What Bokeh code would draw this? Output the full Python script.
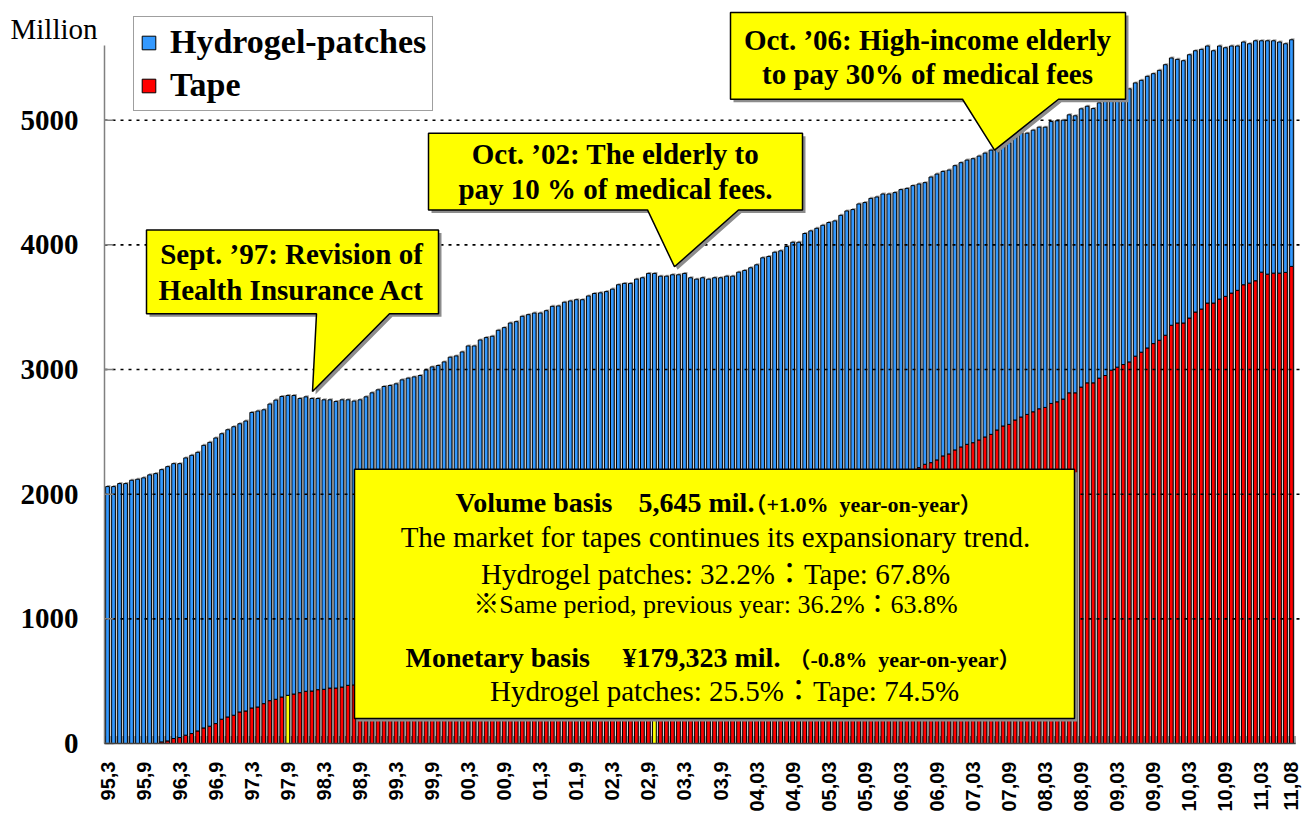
import math
from bokeh.plotting import figure
from bokeh.models import (ColumnDataSource, Range1d, FixedTicker, Label, Legend, LegendItem)
from bokeh.core.properties import value
from bokeh.embed import file_html
from bokeh.resources import INLINE

# ---------------- data ----------------
# monthly periods Mar 1995 .. Aug 2011
periods = []
yy, mm = 1995, 3
while (yy, mm) <= (2011, 8):
    periods.append((yy, mm))
    mm += 1
    if mm > 12:
        mm, yy = 1, yy + 1

# total market volume (million sheets) = hydrogel-patches + tape
total_volume = [
    2061, 2061, 2085, 2085, 2112, 2120, 2131, 2155, 2165, 2197, 2221, 2245,
    2245, 2291, 2312, 2336, 2392, 2416, 2451, 2485, 2517, 2541, 2565, 2587,
    2656, 2667, 2677, 2723, 2755, 2784, 2792, 2792, 2768, 2781, 2768, 2768,
    2757, 2757, 2744, 2757, 2757, 2747, 2757, 2781, 2813, 2837, 2864, 2872,
    2885, 2917, 2931, 2941, 2952, 2997, 3021, 3032, 3061, 3099, 3109, 3141,
    3189, 3189, 3237, 3256, 3267, 3315, 3336, 3373, 3384, 3427, 3440, 3453,
    3453, 3472, 3507, 3510, 3540, 3550, 3560, 3560, 3590, 3610, 3615, 3625,
    3645, 3680, 3691, 3691, 3725, 3736, 3771, 3771, 3749, 3749, 3760, 3760,
    3771, 3736, 3725, 3736, 3725, 3736, 3736, 3749, 3749, 3781, 3795, 3816,
    3840, 3896, 3907, 3941, 3952, 3987, 4021, 4021, 4091, 4112, 4133, 4157,
    4179, 4192, 4237, 4272, 4283, 4328, 4339, 4373, 4384, 4408, 4408, 4419,
    4443, 4453, 4475, 4488, 4499, 4544, 4568, 4589, 4600, 4635, 4659, 4680,
    4691, 4712, 4736, 4760, 4800, 4821, 4819, 4877, 4899, 4896, 4920, 4944,
    4944, 4989, 4995, 5000, 5043, 5035, 5091, 5112, 5093, 5139, 5165, 5173,
    5213, 5251, 5251, 5299, 5320, 5352, 5373, 5400, 5445, 5499, 5488, 5477,
    5525, 5557, 5568, 5595, 5557, 5595, 5581, 5595, 5595, 5627, 5613, 5637,
    5637, 5637, 5637, 5627, 5613, 5645,
]

tape_volume = [
    0, 0, 0, 0, 0, 0, 0, 0, 0, 13, 21, 40,
    48, 67, 80, 101, 125, 139, 160, 195, 213, 227, 253, 261,
    285, 293, 320, 344, 355, 373, 387, 397, 408, 419, 421, 432,
    435, 445, 445, 453, 467, 470, 478, 490, 500, 512, 520, 535,
    548, 560, 572, 585, 598, 610, 628, 640, 655, 670, 685, 700,
    718, 732, 748, 765, 780, 798, 815, 832, 850, 868, 885, 905,
    922, 940, 960, 978, 995, 1015, 1035, 1052, 1072, 1092, 1110, 1130,
    1150, 1172, 1190, 1210, 1232, 1250, 1270, 1290, 1308, 1325, 1345, 1362,
    1380, 1398, 1415, 1432, 1450, 1468, 1485, 1505, 1522, 1540, 1560, 1578,
    1598, 1620, 1640, 1660, 1680, 1700, 1722, 1740, 1765, 1785, 1805, 1825,
    1848, 1868, 1890, 1912, 1932, 1955, 1975, 1998, 2020, 2040, 2062, 2085,
    2108, 2140, 2180, 2213, 2240, 2253, 2275, 2307, 2323, 2355, 2379, 2400,
    2413, 2435, 2459, 2480, 2515, 2547, 2560, 2595, 2619, 2640, 2661, 2685,
    2696, 2728, 2741, 2763, 2813, 2813, 2859, 2893, 2893, 2931, 2952, 2995,
    3019, 3040, 3061, 3107, 3139, 3173, 3208, 3235, 3275, 3355, 3373, 3373,
    3413, 3461, 3485, 3533, 3533, 3565, 3587, 3613, 3635, 3680, 3693, 3712,
    3781, 3765, 3773, 3773, 3779, 3827,
]

hydrogel_volume = [t - p for t, p in zip(total_volume, tape_volume)]

# months highlighted (system revisions) in the tape series
highlight_months = [(1997, 9), (2002, 10)]

tick_labels = ["95,3", "95,9", "96,3", "96,9", "97,3", "97,9", "98,3", "98,9",
               "99,3", "99,9", "00,3", "00,9", "01,3", "01,9", "02,3", "02,9",
               "03,3", "03,9", "04,03", "04,09", "05,03", "05,09", "06,03", "06,09",
               "07,03", "07,09", "08,03", "08,09", "09,03", "09,09", "10,03", "10,09",
               "11,03", "11,08"]

y_ticks = [0, 1000, 2000, 3000, 4000, 5000]
y_tick_labels = ["0", "1000", "2000", "3000", "4000", "5000"]

# ---------------- styling ----------------
BLUE = "#3399FF"
RED = "#FF0000"
YELLOW = "#FFFF00"
SERIF = "Liberation Serif, Noto Sans CJK JP"

N = len(periods)
xs = list(range(N))


def tick_index(lbl):
    a, b = lbl.split(",")
    year = 1900 + int(a) if int(a) > 50 else 2000 + int(a)
    return periods.index((year, int(b)))


tick_pos = [tick_index(l) for l in tick_labels]

src = ColumnDataSource(dict(
    x=xs,
    xs_shadow=[i + 0.2 for i in xs],
    total=total_volume,
    shadow_top=[t + 12 for t in total_volume],
    tape=tape_volume,
    hydrogel=hydrogel_volume,
    tape_color=[YELLOW if per in highlight_months else RED for per in periods],
))

# page-pixel <-> data helpers (frame covers page x 0..1303, y 0..756; value 0 at y 745)
W, H = 1303, 814
PY_ZERO = 745
PY_FRAME_BOTTOM = 756
FIRST_BAR_PX, BAR_PX = 107.0, 6.01
Y_PER_PX = 8.0


def X(px):
    return (px - FIRST_BAR_PX) / BAR_PX


def Y(py):
    return (PY_ZERO - py) * Y_PER_PX


AX_PX = 104  # page x of the value axis

p = figure(width=W, height=H,
           x_range=Range1d(X(0), X(W)),
           y_range=Range1d(Y(PY_FRAME_BOTTOM), Y(0)),
           y_axis_location=None,
           output_backend="svg", toolbar_location=None,
           min_border_left=0, min_border_right=0, min_border_top=0,
           min_border_bottom=H - PY_FRAME_BOTTOM)
p.outline_line_color = None
p.xgrid.visible = False
p.ygrid.visible = False
p.background_fill_color = "white"
p.border_fill_color = "white"

# x axis (period labels)
p.xaxis.ticker = FixedTicker(ticks=tick_pos)
p.xaxis.major_label_overrides = {pos: lbl for pos, lbl in zip(tick_pos, tick_labels)}
p.xaxis.major_label_orientation = math.pi / 2
p.xaxis.major_label_text_font = "Liberation Sans"
p.xaxis.major_label_text_font_style = "bold"
p.xaxis.major_label_text_font_size = "20px"
p.xaxis.major_label_text_color = "black"
p.xaxis.major_label_standoff = 7
p.xaxis.major_tick_in = 0
p.xaxis.major_tick_out = 0
p.xaxis.minor_tick_line_color = None
p.xaxis.axis_line_color = None

# floor shading under the bars
p.quad(left=X(AX_PX), right=N - 0.3, bottom=0, top=60, fill_color="#7a7a7a", line_color=None)

# bars
p.vbar(x="xs_shadow", top="shadow_top", bottom=0, width=0.62, source=src,
       fill_color="#a6a6a6", line_color=None)
r_tape = p.vbar(x="x", top="tape", bottom=0, width=0.62, source=src,
                fill_color="tape_color", line_color="black", line_width=1)
r_hyd = p.vbar(x="x", top="total", bottom="tape", width=0.62, source=src,
               fill_color=BLUE, line_color="black", line_width=1)

# dotted grid lines above bars
p.multi_line(xs=[[X(AX_PX), X(W)] for _ in y_ticks[1:]], ys=[[v, v] for v in y_ticks[1:]],
             line_color="black", line_width=1.6, line_dash="3 5")

# value axis: line, inner ticks, labels; category axis base line
p.segment(x0=X(AX_PX), y0=0, x1=X(AX_PX), y1=Y(45), line_color="#808080", line_width=1.5)
p.segment(x0=[X(AX_PX)] * len(y_ticks), x1=[X(AX_PX + 9)] * len(y_ticks),
          y0=y_ticks, y1=y_ticks, line_color="#808080", line_width=1.5)
p.segment(x0=X(AX_PX), y0=0, x1=N - 0.3, y1=0, line_color="#404040", line_width=1.5)
ysrc = ColumnDataSource(dict(x=[X(78)] * len(y_ticks), y=y_ticks, t=y_tick_labels))
p.text(x="x", y="y", text="t", source=ysrc, text_font=value("Liberation Serif"),
       text_font_style="bold", text_font_size="29px", text_align="right",
       text_baseline="middle", text_color="black")

# callouts (page pixel outlines)
callouts = [
    [(146, 230), (438, 230), (438, 314), (389, 314), (312, 392), (316, 314), (146, 314)],
    [(428, 133), (802, 133), (802, 210), (738, 210), (674, 267), (647, 210), (428, 210)],
    [(730, 12), (1125, 12), (1125, 99), (1058, 99), (994, 150), (962, 99), (730, 99)],
]
p.patches(xs=[[X(a + 3) for a, b in c] for c in callouts],
          ys=[[Y(b + 3) for a, b in c] for c in callouts],
          fill_color="#8c8c8c", line_color=None)
p.patches(xs=[[X(a) for a, b in c] for c in callouts],
          ys=[[Y(b) for a, b in c] for c in callouts],
          fill_color=YELLOW, line_color="black", line_width=1.5)

# big info box
p.quad(left=X(357), right=X(1077), top=Y(473), bottom=Y(723), fill_color="#8c8c8c", line_color=None)
p.quad(left=X(354), right=X(1074), top=Y(470), bottom=Y(720), fill_color=YELLOW,
       line_color="black", line_width=1.5)


def add_text(txt, px, py, size, bold=False, align="left", font=SERIF):
    p.add_layout(Label(x=X(px), y=Y(py), text=txt, text_font=font,
                       text_font_size=f"{size}px", text_font_style="bold" if bold else "normal",
                       text_align=align, text_baseline="middle", text_color="black"))


# callout texts
add_text("Sept. \u201997: Revision of", 291, 254, 29, True, "center")
add_text("Health Insurance Act", 291, 290, 29, True, "center")
add_text("Oct. \u201902: The elderly to", 615, 154, 29, True, "center")
add_text("pay 10 % of medical fees.", 615, 189, 29, True, "center")
add_text("Oct. \u201906: High-income elderly", 927, 40, 29, True, "center")
add_text("to pay 30% of medical fees", 927, 74, 29, True, "center")

# info box texts
add_text("Volume basis", 455, 503, 28, True)
add_text("5,645 mil.", 638, 503, 28, True)
add_text("\uff08+1.0%\u00a0\u00a0year-on-year\uff09", 744, 505, 22, True)
add_text("The market for tapes continues its expansionary trend.", 715, 538, 29, False, "center")
add_text("Hydrogel patches: 32.2%\uff1aTape: 67.8%", 715, 575, 29, False, "center")
add_text("\u203bSame period, previous year: 36.2%\uff1a63.8%", 715, 606, 26, False, "center")
add_text("Monetary basis", 405, 659, 28, True)
add_text("\u00a5179,323 mil.", 622, 659, 28, True)
add_text("\uff08-0.8%\u00a0\u00a0year-on-year\uff09", 788, 661, 22, True)
add_text("Hydrogel patches: 25.5%\uff1aTape: 74.5%", 724, 692, 29, False, "center")

# unit label
add_text("Million", 10, 29, 29, False, "left", "Liberation Serif")

# legend
legend = Legend(items=[LegendItem(label="Hydrogel-patches", renderers=[r_hyd]),
                       LegendItem(label="Tape", renderers=[r_tape], index=0)],
                location=(133, PY_FRAME_BOTTOM - 113), orientation="vertical",
                label_text_font="Liberation Serif", label_text_font_style="bold",
                label_text_font_size="34px", label_text_color="black",
                glyph_width=17, glyph_height=17, label_standoff=13,
                padding=6, spacing=5, margin=0,
                border_line_color="#404040", border_line_width=1,
                background_fill_color="white", background_fill_alpha=1.0)
p.add_layout(legend, "center")

open("out.html", "w").write(file_html(p, INLINE))
